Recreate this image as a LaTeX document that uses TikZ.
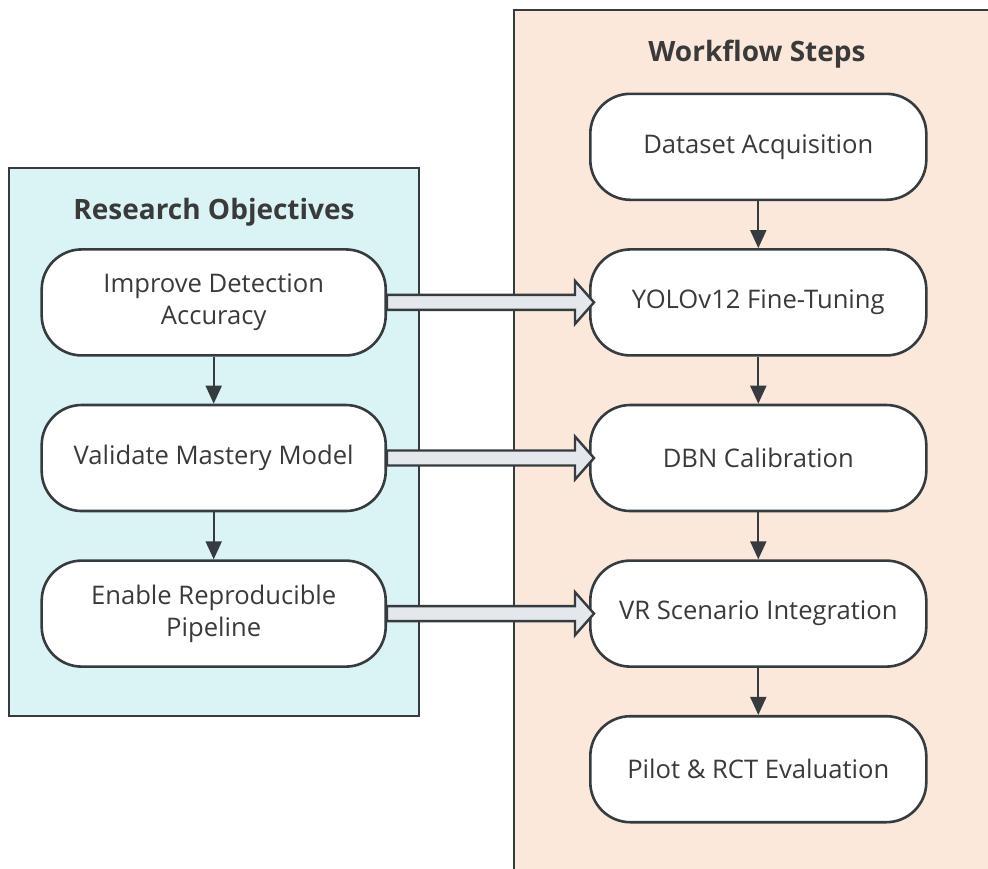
\documentclass[tikz,border=0pt]{standalone}
\usepackage{fontspec}
\setmainfont{Open Sans}
\usetikzlibrary{matrix, arrows.meta, calc}

\definecolor{objfill}{HTML}{DAF3F4}
\definecolor{stepfill}{HTML}{FBE8DA}
\definecolor{edge}{HTML}{363B40}
\definecolor{pipe}{HTML}{E4E8EC}
\definecolor{ink}{HTML}{3A3A3A}

\tikzset{
  stage/.style={draw=edge, line width=1.3pt, fill=white, rounded corners=20pt,
    minimum height=53pt, align=center, text=ink, inner sep=2pt,
    font=\fontsize{12.8}{16}\selectfont},
  objective/.style={stage, minimum width=172pt},
  wstep/.style={stage, minimum width=168pt},
  cluster/.style={draw=edge, line width=1.3pt},
  heading/.style={text=ink, font=\fontsize{14}{17}\selectfont\bfseries},
  flow/.style={draw=edge, line width=1pt, -{Triangle[length=9pt,width=8pt]}},
  bigarrow/.style={draw=edge, line width=1.2pt, fill=pipe, line join=miter}
}

% fat arrow from an objective into the step it feeds
\newcommand{\feed}[2]{
  \draw[bigarrow] ($(#1.east)+(0,-7.5)$) -- ($(#2.west)+(-14,-7.5)$)
    -- ($(#2.west)+(-14,-21.5)$) -- ($(#2.west)+(5,0)$)
    -- ($(#2.west)+(-14,21.5)$) -- ($(#2.west)+(-14,7.5)$)
    -- ($(#1.east)+(0,7.5)$) -- cycle;
}

\begin{document}
\begin{tikzpicture}[x=0.5pt, y=-0.5pt]
\useasboundingbox (0,0) rectangle (988,868);
\clip (0,0) rectangle (988,868);

% the two groups
\draw[cluster, fill=objfill] (9,168) rectangle (419,716);
\draw[cluster, fill=stepfill] (514,10) rectangle (1000,880);
\node[heading] (objtitle) at (214,212) {Research Objectives};
\node[heading] (steptitle) at (757,54) {Workflow Steps};

\matrix (m) [column sep = 101pt, row sep = 23.5pt] at (484,458) {
& \node[wstep](s1){Dataset Acquisition}; \\
\node[objective](o1){Improve Detection\\Accuracy}; & \node[wstep](s2){YOLOv12 Fine-Tuning}; \\
\node[objective](o2){Validate Mastery Model}; & \node[wstep](s3){DBN Calibration}; \\
\node[objective](o3){Enable Reproducible\\Pipeline}; & \node[wstep](s4){VR Scenario Integration}; \\
& \node[wstep](s5){Pilot \& RCT Evaluation}; \\
};

\draw[flow] (o1) -- (o2);
\draw[flow] (o2) -- (o3);
\draw[flow] (s1) -- (s2);
\draw[flow] (s2) -- (s3);
\draw[flow] (s3) -- (s4);
\draw[flow] (s4) -- (s5);

\feed{o1}{s2}
\feed{o2}{s3}
\feed{o3}{s4}
\end{tikzpicture}
\end{document}
